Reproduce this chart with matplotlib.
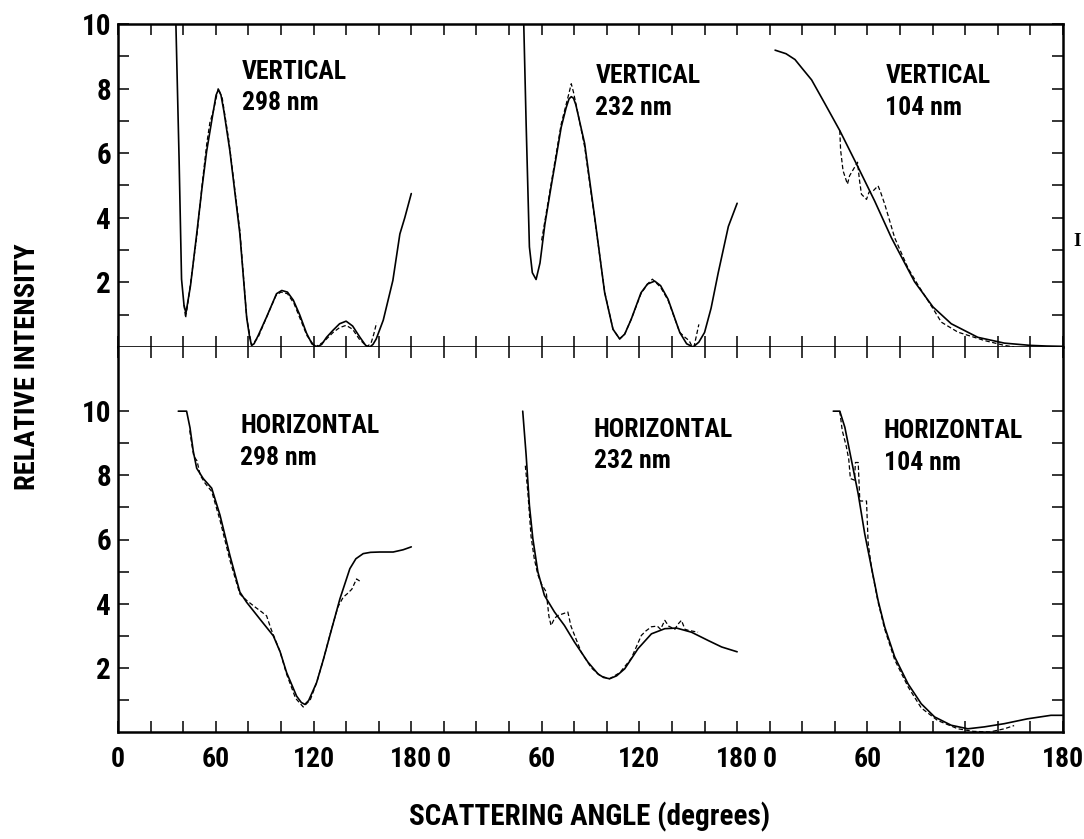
import matplotlib
matplotlib.use("Agg")
import matplotlib.pyplot as plt
from matplotlib import font_manager

# narrow bold lettering; fall back to condensed DejaVu if no narrow face is installed
_names = {f.name for f in font_manager.fontManager.ttflist}
FONT = "DejaVu Sans"
for cand in ["Roboto Condensed", "Liberation Sans Narrow", "Open Sans Condensed"]:
    if cand in _names:
        FONT = cand
        break
SHRINK = 1.0 if FONT != "DejaVu Sans" else 0.8
TXT = dict(family=FONT, weight="bold", stretch="condensed", color="black")

# ---- vertical polarisation, 298 nm ----
v298_ang = [35.3, 37.5, 39.0, 40.5, 41.7, 44.5, 48.3, 51.5, 54.4, 58.5, 60.2, 61.7, 63.2,
            65.0, 68.7, 74.8, 79.0, 80.8, 82.0, 83.5, 86.0, 91.2, 97.3, 100.5, 104, 107.6,
            111.5, 115.7, 119, 122.0, 125, 128, 132.0, 136, 140.0, 144, 148.5, 152, 154.5,
            156.5, 158.5, 162.8, 168.7, 173.0, 176.0, 180.0]
v298_fit = [10.5, 5.8, 2.1, 1.3, 1.05, 1.9, 3.5, 4.9, 6.06, 7.3, 7.8, 7.97, 7.8,
            7.3, 6.06, 3.5, 0.9, 0.3, 0.05, 0.1, 0.35, 0.93, 1.65, 1.75, 1.7, 1.45,
            1.0, 0.43, 0.1, 0.0, 0.08, 0.3, 0.52, 0.72, 0.8, 0.65, 0.3, 0.05, 0.0,
            0.08, 0.25, 0.83, 2.06, 3.5, 4.0, 4.75]
v298_exp_ang = [40.5, 41.5, 43, 48.3, 52, 54.5, 56.4, 58.5, 61.5, 64, 68, 74.8, 79, 82, 86,
                91, 97, 100, 104, 108, 112, 116, 121, 126, 132, 136, 140, 144, 148, 153,
                155.5, 157, 158.7]
v298_exp = [1.3, 0.9, 1.4, 3.4, 5.2, 6.3, 6.95, 7.3, 8.0, 7.7, 6.4, 3.6, 0.9, 0.05, 0.3,
            0.9, 1.6, 1.7, 1.65, 1.35, 0.85, 0.35, 0.0, 0.15, 0.45, 0.6, 0.67, 0.55, 0.25, 0.0,
            0.15, 0.4, 0.75]

# ---- vertical polarisation, 232 nm ----
v232_ang = [48.8, 50.5, 52.5, 54.3, 56.6, 59, 62, 65.8, 69, 72, 75, 76.8, 78.2, 79.6, 81,
            86.4, 92.5, 98.7, 103.8, 107.9, 111, 115, 121, 125, 129.4, 133, 137.6, 144.8,
            149, 153, 156.5, 160, 164, 168.4, 174.6, 180]
v232_fit = [10.5, 6.9, 3.1, 2.3, 2.09, 2.6, 3.8, 4.96, 5.9, 6.8, 7.4, 7.68, 7.75, 7.7, 7.5,
            6.3, 4.04, 1.68, 0.55, 0.25, 0.4, 0.86, 1.68, 1.95, 2.04, 1.9, 1.48, 0.45,
            0.1, 0.0, 0.15, 0.45, 1.2, 2.3, 3.73, 4.45]
v232_exp_ang = [60, 63, 66, 69, 72, 75, 77, 78.2, 79.5, 82, 86.4, 92.5, 98.7, 103.8, 107.9,
                111, 115, 121, 125, 128, 130, 133, 137.6, 144.8, 148, 150.5, 152, 153.5,
                155, 156.5]
v232_exp = [3.3, 4.2, 5.1, 6.0, 6.9, 7.5, 7.9, 8.15, 7.9, 7.3, 6.2, 4.0, 1.7, 0.55, 0.25,
            0.4, 0.86, 1.65, 1.95, 2.1, 2.0, 1.85, 1.45, 0.45, 0.3, 0.2, 0.05, 0.0,
            0.35, 0.7]

# ---- vertical polarisation, 104 nm ----
v104_ang = [3.3, 10, 15.5, 20, 25.7, 33.8, 43, 54.3, 64.4, 74.7, 88.9, 100.2, 111.4,
            127.7, 144, 160, 170, 180]
v104_fit = [9.19, 9.08, 8.9, 8.62, 8.27, 7.54, 6.7, 5.56, 4.52, 3.38, 2.02, 1.24, 0.72,
            0.30, 0.12, 0.05, 0.03, 0.02]
v104_exp_ang = [43, 43.5, 45, 47.7, 49, 53.9, 55, 56.3, 59.4, 61, 63.4, 66.5, 68, 70.6,
                76.7, 84.9, 91, 100.2, 105.3, 115.5, 131.8, 144, 150]
v104_exp = [6.7, 6.1, 5.46, 5.04, 5.3, 5.72, 5.2, 4.73, 4.57, 4.8, 4.83, 4.99, 4.8, 4.42,
            3.38, 2.44, 1.92, 1.19, 0.77, 0.46, 0.2, 0.05, 0.0]

# ---- horizontal polarisation, 298 nm ----
h298_ang = [37, 42.1, 44.2, 46.2, 48.3, 52.3, 57.5, 62.6, 68.7, 74.8, 79, 87.1, 95.3, 99.5,
            103.5, 109.6, 112.5, 114.7, 117, 121.9, 126, 130, 136.2, 142.3, 146, 150.5, 155,
            160.7, 168.9, 175, 180]
h298_fit = [10.0, 10.0, 9.48, 8.75, 8.22, 7.9, 7.6, 6.76, 5.5, 4.36, 4.04, 3.52, 3.0, 2.5,
            1.85, 1.12, 0.92, 0.86, 0.98, 1.54, 2.25, 3.0, 4.15, 5.09, 5.4, 5.56, 5.6,
            5.61, 5.61, 5.68, 5.77]
h298_exp_ang = [44, 45.2, 46.5, 48.5, 50.5, 53.5, 57.5, 62.6, 68.7, 74.8, 79, 84, 88, 91.2,
                94, 99.5, 103.5, 109, 113.7, 118, 122, 126, 131, 135, 138.2, 140.5, 143.5,
                146.4, 148.5]
h298_exp = [9.4, 9.0, 8.6, 8.45, 8.0, 7.75, 7.5, 6.6, 5.35, 4.3, 4.1, 3.9, 3.75, 3.62,
            3.2, 2.5, 1.8, 1.05, 0.78, 1.0, 1.55, 2.25, 3.2, 3.9, 4.2, 4.3, 4.45,
            4.77, 4.7]

# ---- horizontal polarisation, 232 nm ----
h232_ang = [48.4, 50.5, 52.5, 54.6, 57.7, 61.7, 67.9, 74, 80.2, 88.4, 94.6, 98, 101.7, 106,
            111, 119.2, 127.4, 135.6, 142.8, 152, 162.3, 170.5, 180]
h232_fit = [10.0, 8.63, 7.07, 6.03, 4.99, 4.26, 3.74, 3.32, 2.8, 2.18, 1.81, 1.7, 1.66, 1.75,
            1.97, 2.6, 3.06, 3.22, 3.24, 3.11, 2.85, 2.65, 2.5]
h232_exp_ang = [50, 51.5, 53.5, 55.5, 57.7, 60, 62.8, 64.5, 65.8, 68, 70, 76.1, 78, 84.3,
                90.5, 96, 101.7, 108, 115, 121.2, 124, 127.4, 131, 133, 135.6, 138, 141.8,
                143.5, 145.8, 148, 150, 156]
h232_exp = [8.3, 7.5, 6.1, 5.4, 4.9, 4.6, 4.37, 3.6, 3.32, 3.55, 3.63, 3.74, 3.3, 2.49,
            2.0, 1.75, 1.66, 1.85, 2.29, 3.01, 3.15, 3.28, 3.3, 3.2, 3.48, 3.3, 3.2,
            3.35, 3.48, 3.2, 3.17, 3.11]

# ---- horizontal polarisation, 104 nm ----
h104_ang = [39, 43, 46.1, 50.2, 54.3, 58.3, 62.4, 66.5, 70.6, 76.7, 84.9, 93, 101.2,
            111.4, 121.6, 131.8, 144, 158.1, 172.6, 180]
h104_fit = [10.0, 10.0, 9.5, 8.46, 7.42, 6.18, 5.14, 4.1, 3.27, 2.34, 1.5, 0.88, 0.47,
            0.21, 0.1, 0.16, 0.26, 0.41, 0.52, 0.52]
h104_exp_ang = [43, 44.5, 47, 48.5, 49.5, 52, 52.6, 54.3, 55.3, 59.4, 60.4, 62.5, 66.5,
                70.6, 76.7, 85, 93, 103, 115.5, 125, 135, 144, 150]
h104_exp = [10.0, 9.4, 8.9, 8.5, 7.9, 7.85, 8.4, 8.4, 7.2, 7.2, 5.9, 5.1, 4.05,
            3.2, 2.25, 1.4, 0.75, 0.36, 0.1, 0.02, 0.0, 0.1, 0.2]

sizes = ["298 nm", "232 nm", "104 nm"]
angle_labels = ["0", "60", "120", "180"]
OFFSETS = [0, 200, 400]   # the three angle scales sit side by side on one axis

vertical = [(v298_ang, v298_fit, v298_exp_ang, v298_exp),
            (v232_ang, v232_fit, v232_exp_ang, v232_exp),
            (v104_ang, v104_fit, v104_exp_ang, v104_exp)]
horizontal = [(h298_ang, h298_fit, h298_exp_ang, h298_exp),
              (h232_ang, h232_fit, h232_exp_ang, h232_exp),
              (h104_ang, h104_fit, h104_exp_ang, h104_exp)]

fig = plt.figure(figsize=(10.84, 8.39), dpi=100)
L, W = 118 / 1084, (1063 - 118) / 1084
y_mid = 1 - 347 / 839
ax_top = fig.add_axes([L, y_mid, W, (1 - 24 / 839) - y_mid])
ax_bot = fig.add_axes([L, 1 - 732 / 839, W, y_mid - (1 - 732 / 839)])


def draw(ax, curves, title, label_pos):
    for off, (a, f, ea, e), (lx, ly), sz in zip(OFFSETS, curves, label_pos, sizes):
        ax.plot([x + off for x in a], f, color="black", lw=1.2,
                solid_joinstyle="round", solid_capstyle="round")
        ax.plot([x + off for x in ea], e, color="black", lw=0.9, dashes=(3.5, 2.0))
        ax.text(lx + off, ly, title + "\n" + sz, ha="left", va="top",
                fontsize=18.5 * SHRINK, linespacing=1.4, **TXT)


draw(ax_top, vertical, "VERTICAL", [(76, 8.9), (93, 8.75), (71, 8.75)])
draw(ax_bot, horizontal, "HORIZONTAL", [(75, 9.9), (92, 9.8), (70, 9.75)])

# angle labels: 0/60/120/180 under each of the three scales
xt = list(range(0, 581, 20))
xlab = []
for x in xt:
    off = OFFSETS[min(x // 200, 2)]
    rel = x - off
    xlab.append(angle_labels[rel // 60] if rel % 60 == 0 and rel <= 180 else "")

ax_top.set_ylim(0, 10)
ax_bot.set_ylim(0, 12)
for ax in (ax_top, ax_bot):
    ax.set_xlim(0, 580)
    ax.set_xticks(xt)
    ax.set_yticks(range(1, 11))
    ax.set_yticklabels([str(v) if v % 2 == 0 else "" for v in range(1, 11)], **TXT)
    for tl in ax.get_yticklabels():
        tl.set_fontsize(21 * SHRINK)
    ax.tick_params(axis="y", direction="in", left=True, right=True, length=8,
                   width=1.1, pad=5)
    ax.tick_params(axis="x", direction="in", top=True, bottom=True, length=8,
                   width=1.1)
    for s in ax.spines.values():
        s.set_linewidth(1.8)

ax_top.tick_params(axis="x", labelbottom=False)
ax_top.spines["bottom"].set_linewidth(1.2)
ax_bot.spines["top"].set_visible(False)
ax_bot.tick_params(axis="x", pad=10)
ax_bot.set_xticklabels(xlab, **TXT)
for tl in ax_bot.get_xticklabels():
    tl.set_fontsize(20 * SHRINK)

fig.text(28 / 1084, 1 - 367 / 839, "RELATIVE INTENSITY", rotation=90,
         ha="center", va="center", fontsize=20.5 * SHRINK, **TXT)
fig.text(590 / 1084, 1 - 817 / 839, "SCATTERING ANGLE (degrees)",
         ha="center", va="center", fontsize=21 * SHRINK, **TXT)
fig.text(1073 / 1084, 1 - 241 / 839, "I", ha="left", va="center",
         family="Liberation Serif", weight="bold", fontsize=14)

fig.savefig("out.png", dpi=100)
